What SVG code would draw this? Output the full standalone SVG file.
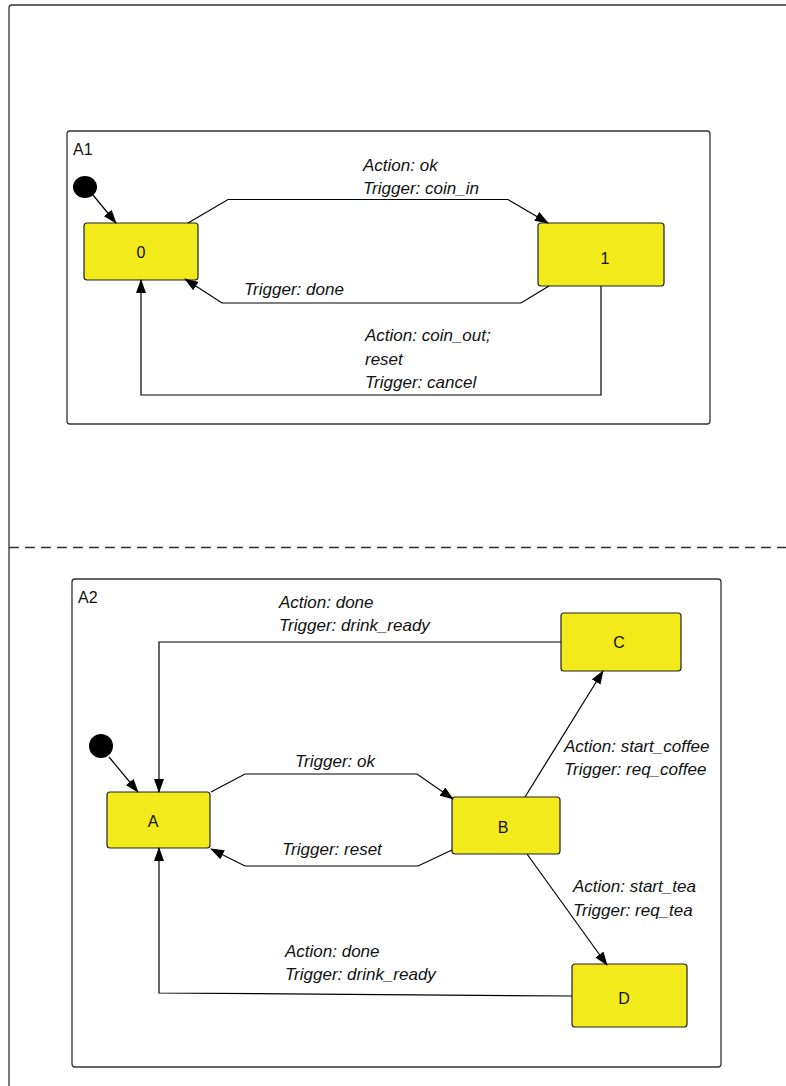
<svg xmlns="http://www.w3.org/2000/svg" width="786" height="1086" viewBox="0 0 786 1086">
<defs>
<marker id="arr" markerWidth="14" markerHeight="10" refX="13" refY="5" orient="auto" markerUnits="userSpaceOnUse">
<path d="M0,0 L14,5 L0,10 Z" fill="#000"/>
</marker>
</defs>
<style>
.frame{fill:none;stroke:#333;stroke-width:1.3}
.state{fill:#F2EA1A;stroke:#222;stroke-width:1.2}
.lbl{font-family:"Liberation Sans",Arial,sans-serif;font-size:16px;fill:#111;text-anchor:middle}
.cap{font-family:"Liberation Sans",Arial,sans-serif;font-size:16px;fill:#111}
.tr{font-family:"Liberation Sans",Arial,sans-serif;font-size:17px;font-style:italic;fill:#111}
.edge{fill:none;stroke:#000;stroke-width:1.2}
.init{fill:#000}
</style>
<rect width="786" height="1086" fill="#fff"/>
<g id="outer">
<rect class="frame" x="9" y="5" width="800" height="1100" rx="3"/>
<line x1="9" y1="547.5" x2="786" y2="547.5" stroke="#333" stroke-width="1.3" stroke-dasharray="10,6"/>
</g>
<g id="A1">
<rect class="frame" x="67" y="131" width="643" height="293" rx="3"/>
<text class="cap" x="73" y="155">A1</text>
</g>
<g id="A2">
<rect class="frame" x="72" y="579" width="649" height="488" rx="3"/>
<text class="cap" x="78" y="603">A2</text>
</g>
<g id="init1"><ellipse class="init" cx="85" cy="187" rx="12" ry="11"/></g>
<g id="s0"><rect class="state" x="84" y="223" width="114" height="57" rx="3"/><text class="lbl" x="141" y="258">0</text></g>
<g id="s1"><rect class="state" x="538" y="223" width="126" height="63" rx="3"/><text class="lbl" x="605" y="264">1</text></g>
<g id="init2"><ellipse class="init" cx="101" cy="746" rx="12" ry="12"/></g>
<g id="sA"><rect class="state" x="107" y="792" width="103" height="56" rx="3"/><text class="lbl" x="153" y="827">A</text></g>
<g id="sB"><rect class="state" x="452" y="797" width="108" height="57" rx="3"/><text class="lbl" x="503" y="833">B</text></g>
<g id="sC"><rect class="state" x="561" y="613" width="120" height="58" rx="3"/><text class="lbl" x="619" y="648">C</text></g>
<g id="sD"><rect class="state" x="572" y="964" width="115" height="63" rx="3"/><text class="lbl" x="624" y="1004">D</text></g>
<g id="connectors">
<path class="edge" d="M93,195 L116,223" marker-end="url(#arr)"/>
<path class="edge" d="M188,223 L228,199.5 L508,199.5 L548,223" marker-end="url(#arr)"/>
<path class="edge" d="M549,286 L521,303 L222,303 L185,279" marker-end="url(#arr)"/>
<path class="edge" d="M601,286 L601,395 L141,395 L141,280" marker-end="url(#arr)"/>
<path class="edge" d="M109,757 L138,792" marker-end="url(#arr)"/>
<path class="edge" d="M561,642 L159,642 L159,792" marker-end="url(#arr)"/>
<path class="edge" d="M211,792 L245,774 L417,774 L453,799" marker-end="url(#arr)"/>
<path class="edge" d="M452,850 L418,866 L245,866 L211,849" marker-end="url(#arr)"/>
<path class="edge" d="M525,797 L603,671" marker-end="url(#arr)"/>
<path class="edge" d="M527,854 L607,965" marker-end="url(#arr)"/>
<path class="edge" d="M572,996 L159,993 L159,848" marker-end="url(#arr)"/>
</g>
<g id="labels">
<text class="tr" x="363" y="171">Action: ok</text>
<text class="tr" x="363" y="194">Trigger: coin_in</text>
<text class="tr" x="244" y="295">Trigger: done</text>
<text class="tr" x="365" y="341">Action: coin_out;</text>
<text class="tr" x="365" y="365">reset</text>
<text class="tr" x="365" y="388">Trigger: cancel</text>
<text class="tr" x="279" y="608">Action: done</text>
<text class="tr" x="279" y="631">Trigger: drink_ready</text>
<text class="tr" x="295" y="767">Trigger: ok</text>
<text class="tr" x="282" y="855">Trigger: reset</text>
<text class="tr" x="564" y="752">Action: start_coffee</text>
<text class="tr" x="564" y="775">Trigger: req_coffee</text>
<text class="tr" x="573" y="892">Action: start_tea</text>
<text class="tr" x="573" y="916">Trigger: req_tea</text>
<text class="tr" x="285" y="957">Action: done</text>
<text class="tr" x="285" y="980">Trigger: drink_ready</text>
</g>
</svg>
